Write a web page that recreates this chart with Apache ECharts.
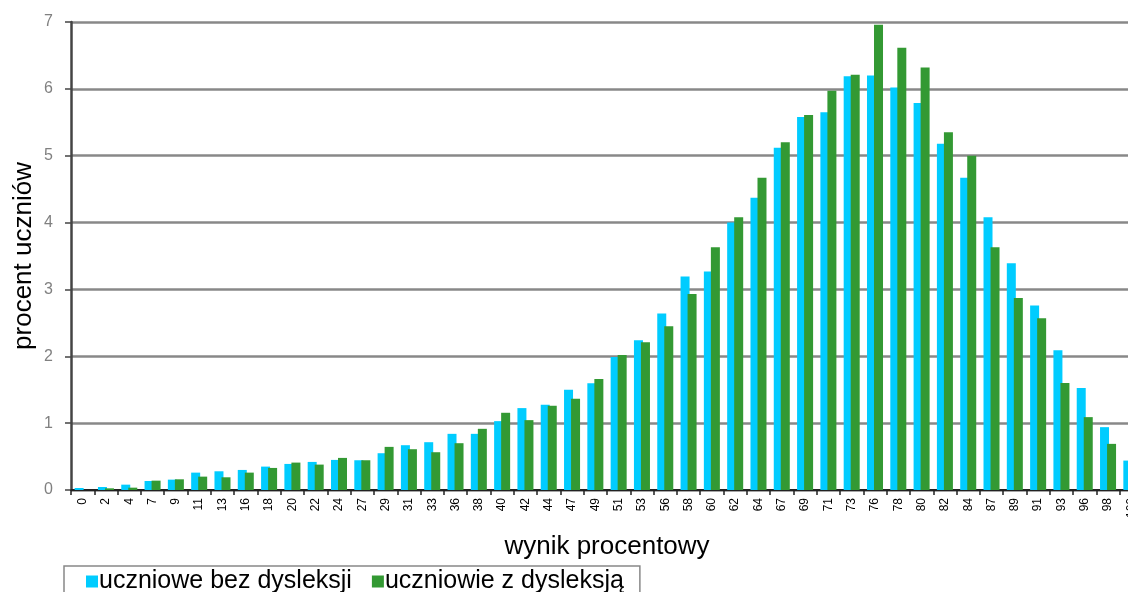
<!DOCTYPE html>
<html>
<head>
<meta charset="utf-8">
<script src="https://cdn.jsdelivr.net/npm/echarts@6/dist/echarts.min.js"></script>
<style>html,body{margin:0;padding:0;background:#fff}#c{width:1128px;height:592px}</style>
</head>
<body>
<div id="c"></div>
<script>
var categories = ['0','2','4','7','9','11','13','16','18','20','22','24','27','29','31','33','36','38','40','42','44','47','49','51','53','56','58','60','62','64','67','69','71','73','76','78','80','82','84','87','89','91','93','96','98','100'];
var bezDysleksji = [0.03,0.045,0.08,0.135,0.155,0.26,0.28,0.30,0.35,0.39,0.42,0.45,0.445,0.55,0.67,0.715,0.84,0.84,1.03,1.225,1.275,1.50,1.595,1.99,2.24,2.64,3.195,3.27,4.00,4.37,5.12,5.58,5.65,6.19,6.20,6.02,5.79,5.18,4.67,4.08,3.39,2.76,2.09,1.525,0.94,0.44];
var zDysleksja = [0.0,0.025,0.035,0.14,0.16,0.20,0.19,0.26,0.33,0.41,0.38,0.48,0.445,0.645,0.61,0.565,0.70,0.915,1.155,1.045,1.26,1.365,1.66,2.02,2.21,2.45,2.93,3.63,4.08,4.67,5.20,5.61,5.97,6.21,6.96,6.615,6.32,5.35,5.00,3.63,2.87,2.57,1.60,1.09,0.69,0.21];
var yTicks = [0,1,2,3,4,5,6,7];

var chart = echarts.init(document.getElementById('c'), null, {renderer:'canvas'});
chart.setOption({
  animation:false,
  textStyle:{fontFamily:'Liberation Sans, Arial, sans-serif'},
  grid:{left:71, top:22, width:1072, bottom:102, containLabel:false, outerBoundsMode:'none'},
  legend:{
    left:64, top:566,
    data:['uczniowe bez dysleksji','uczniowie z dysleksją'],
    itemWidth:12, itemHeight:12, itemGap:20,
    icon:'rect',
    borderColor:'#888', borderWidth:1.5,
    padding:[3,16,8,22],
    textStyle:{fontSize:25, color:'#000', fontFamily:'Liberation Sans, Arial, sans-serif', padding:[0,0,0,-4]}
  },
  xAxis:{
    type:'category', data:categories,
    name:'wynik procentowy', nameLocation:'middle', nameGap:44, nameMoveOverlap:false,
    nameTextStyle:{fontSize:26, color:'#000'},
    axisLine:{lineStyle:{color:'#222', width:2}},
    axisTick:{show:true, alignWithLabel:false, length:5, lineStyle:{color:'#222', width:1.5}},
    axisLabel:{rotate:90, interval:0, fontSize:12, color:'#000', margin:8}
  },
  yAxis:{
    type:'value', min:yTicks[0], max:yTicks[yTicks.length-1], interval:1,
    name:'procent uczniów', nameLocation:'middle', nameGap:34, nameRotate:90, nameMoveOverlap:false,
    nameTextStyle:{fontSize:26, color:'#000'},
    axisLine:{show:true, lineStyle:{color:'#444', width:2.5}},
    axisTick:{show:true, length:6, lineStyle:{color:'#444', width:1.5}},
    axisLabel:{fontSize:16, color:'#808080', margin:18},
    splitLine:{lineStyle:{color:'#888', width:2.5}}
  },
  series:[
    {name:'uczniowe bez dysleksji', type:'bar', data:bezDysleksji, barWidth:9, barGap:'-22%',
     itemStyle:{color:'#00CCFF'}},
    {name:'uczniowie z dysleksją', type:'bar', data:zDysleksja, barWidth:9, barGap:'-22%',
     itemStyle:{color:'#339933'}}
  ]
});
</script>
</body>
</html>
